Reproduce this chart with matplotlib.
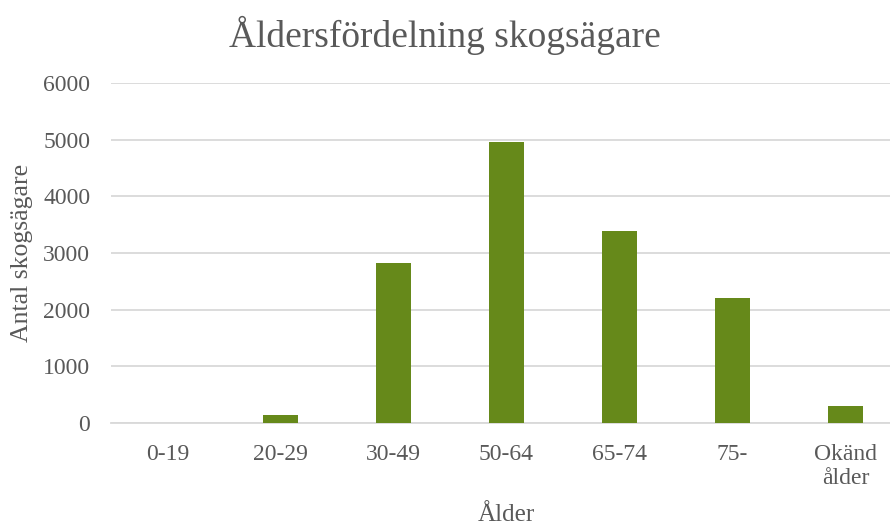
import matplotlib
matplotlib.use("Agg")
import matplotlib.pyplot as plt

categories = ["0-19", "20-29", "30-49", "50-64", "65-74", "75-", "Okänd\nålder"]
values = [0, 150, 2820, 4960, 3390, 2210, 300]
yticks = [0, 1000, 2000, 3000, 4000, 5000, 6000]

plt.rcParams['font.family'] = ['Liberation Serif', 'DejaVu Serif']
grey = "#595959"

W, H = 890, 528
fig = plt.figure(figsize=(W/100, H/100), dpi=100)
ax = fig.add_axes([111/W, 1-423/H, (902-111)/W, (423-83)/H])

x = list(range(len(categories)))
ax.bar(x, values, width=0.31, color="#66891A", zorder=3)
ax.set_xlim(-0.5, 6.5)
ax.set_ylim(0, 6000)
ax.set_yticks(yticks)
ax.set_yticklabels([str(t) for t in yticks])
ax.set_xticks(x)
ax.set_xticklabels(categories, linespacing=1.2)
ax.grid(axis='y', color="#d9d9d9", linewidth=1.3, zorder=0)
for s in ["top", "right", "left"]:
    ax.spines[s].set_visible(False)
ax.spines["bottom"].set_color("#d9d9d9")
ax.spines["bottom"].set_linewidth(1.3)
ax.tick_params(axis='both', length=0, labelsize=17, colors=grey)
ax.tick_params(axis='y', pad=15)
ax.tick_params(axis='x', pad=15)
ax.set_xlabel("Ålder", fontsize=18, color=grey)
ax.xaxis.set_label_coords(0.5, -(515-423)/340, transform=ax.transAxes)
ax.xaxis.label.set_va("center")
ax.set_ylabel("Antal skogsägare", fontsize=18.5, color=grey)
ax.yaxis.set_label_coords(-(111-22)/791, 0.5)
ax.yaxis.label.set_va("center")
fig.text(0.5, 1-35/H, "Åldersfördelning skogsägare", ha="center", va="center",
         fontsize=27, color=grey)

fig.savefig("out.png", dpi=100)
